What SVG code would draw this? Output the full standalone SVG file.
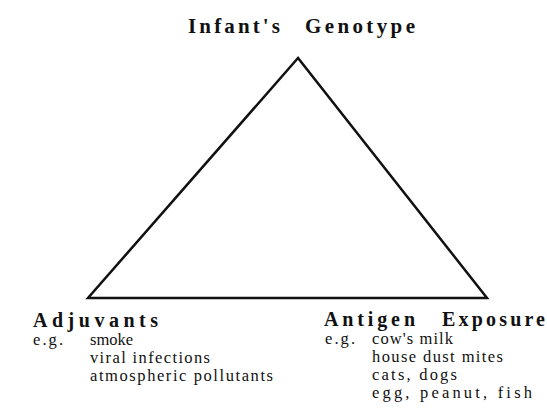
<svg xmlns="http://www.w3.org/2000/svg" width="547" height="408" viewBox="0 0 547 408">
<style>
.h{font-family:"Liberation Serif","Times New Roman","DejaVu Serif",serif;font-weight:bold;font-size:20px;fill:#111}
.t{font-family:"Liberation Serif","Times New Roman","DejaVu Serif",serif;font-size:16.5px;fill:#111}
.edge{fill:none;stroke:#111;stroke-width:2.5;stroke-linejoin:miter}
</style>
<rect width="547" height="408" fill="#fff"/>
<g id="connectors">
<path class="edge" d="M298,58 L88,298 L487,298 Z"/>
</g>
<g id="genotype">
<text class="h" x="188" y="33" textLength="92" lengthAdjust="spacing" style="font-size:21px">Infant's</text>
<text class="h" x="305" y="33" textLength="110" lengthAdjust="spacing" style="font-size:21px">Genotype</text>
</g>
<g id="adjuvants">
<text class="h" x="33" y="327" textLength="125" lengthAdjust="spacing">Adjuvants</text>
<text class="t" x="33" y="345" textLength="30" lengthAdjust="spacing">e.g.</text>
<text class="t" x="90" y="345" textLength="43" lengthAdjust="spacing">smoke</text>
<text class="t" x="90" y="363" textLength="120" lengthAdjust="spacing">viral infections</text>
<text class="t" x="90" y="381" textLength="183" lengthAdjust="spacing">atmospheric pollutants</text>
</g>
<g id="antigen">
<text class="h" x="324" y="326" textLength="91" lengthAdjust="spacing">Antigen</text>
<text class="h" x="442" y="326" textLength="103" lengthAdjust="spacing">Exposure</text>
<text class="t" x="325" y="344" textLength="30" lengthAdjust="spacing">e.g.</text>
<text class="t" x="372" y="344" textLength="81" lengthAdjust="spacing">cow's milk</text>
<text class="t" x="372" y="362" textLength="131" lengthAdjust="spacing">house dust mites</text>
<text class="t" x="372" y="380" textLength="85" lengthAdjust="spacing">cats, dogs</text>
<text class="t" x="372" y="398" textLength="160" lengthAdjust="spacing">egg, peanut, fish</text>
</g>
</svg>
